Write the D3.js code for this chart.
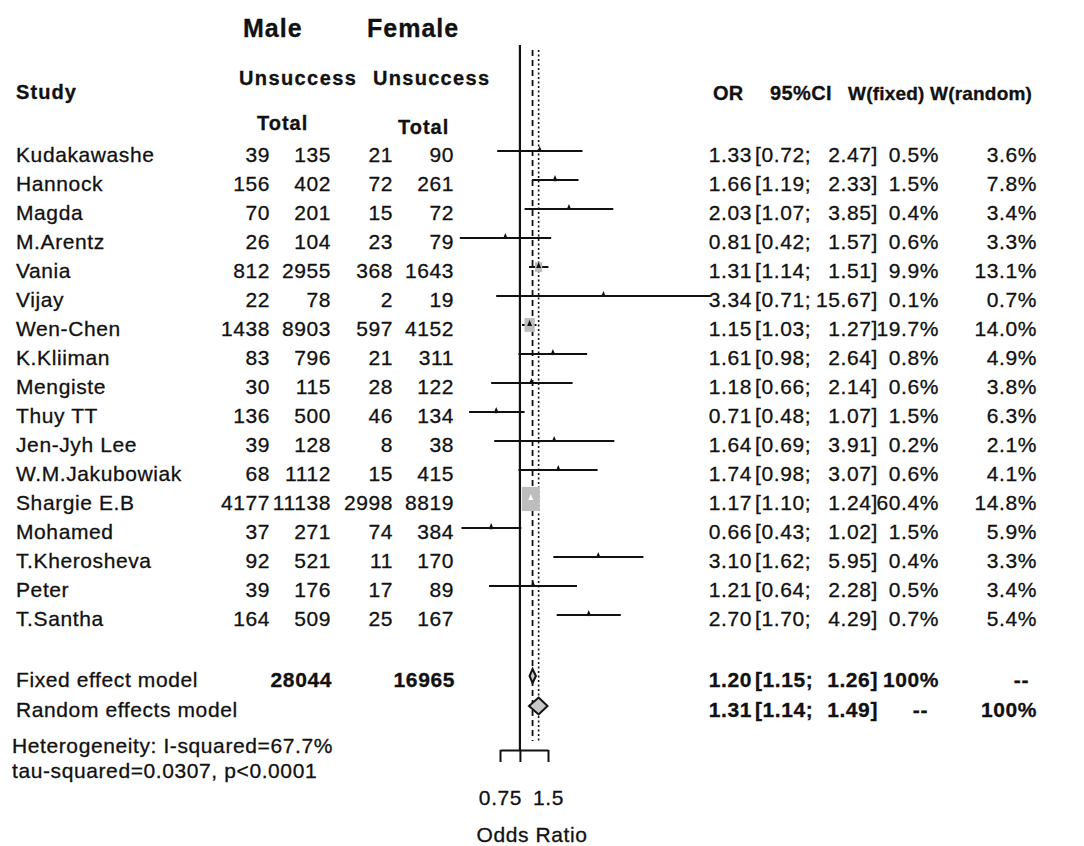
<!DOCTYPE html>
<html>
<head>
<meta charset="utf-8">
<script src="https://cdn.jsdelivr.net/npm/d3@7"></script>
<style>
  html, body { margin: 0; padding: 0; background: #fff; }
  svg text { font-family: "Liberation Sans", Arial, Helvetica, sans-serif; fill: #111; stroke: #111; stroke-width: 0.3; }
</style>
</head>
<body>
<div id="chart"></div>
<script>
// study rows
const studies = ["Kudakawashe", "Hannock", "Magda", "M.Arentz", "Vania", "Vijay", "Wen-Chen",
  "K.Kliiman", "Mengiste", "Thuy TT", "Jen-Jyh Lee", "W.M.Jakubowiak", "Shargie E.B",
  "Mohamed", "T.Kherosheva", "Peter", "T.Santha"];
const maleUnsuccess = [39, 156, 70, 26, 812, 22, 1438, 83, 30, 136, 39, 68, 4177, 37, 92, 39, 164];
const maleTotal = [135, 402, 201, 104, 2955, 78, 8903, 796, 115, 500, 128, 1112, 11138, 271, 521, 176, 509];
const femaleUnsuccess = [21, 72, 15, 23, 368, 2, 597, 21, 28, 46, 8, 15, 2998, 74, 11, 17, 25];
const femaleTotal = [90, 261, 72, 79, 1643, 19, 4152, 311, 122, 134, 38, 415, 8819, 384, 170, 89, 167];
const oddsRatio = [1.33, 1.66, 2.03, 0.81, 1.31, 3.34, 1.15, 1.61, 1.18, 0.71, 1.64, 1.74, 1.17, 0.66, 3.10, 1.21, 2.70];
const ciLower = [0.72, 1.19, 1.07, 0.42, 1.14, 0.71, 1.03, 0.98, 0.66, 0.48, 0.69, 0.98, 1.10, 0.43, 1.62, 0.64, 1.70];
const ciUpper = [2.47, 2.33, 3.85, 1.57, 1.51, 15.67, 1.27, 2.64, 2.14, 1.07, 3.91, 3.07, 1.24, 1.02, 5.95, 2.28, 4.29];
const weightFixed = [0.5, 1.5, 0.4, 0.6, 9.9, 0.1, 19.7, 0.8, 0.6, 1.5, 0.2, 0.6, 60.4, 1.5, 0.4, 0.5, 0.7];
const weightRandom = [3.6, 7.8, 3.4, 3.3, 13.1, 0.7, 14.0, 4.9, 3.8, 6.3, 2.1, 4.1, 14.8, 5.9, 3.3, 3.4, 5.4];

// pooled estimates
const fixedModel = { label: "Fixed effect model", or: 1.20, lo: 1.15, hi: 1.26, wf: "100%", wr: "--" };
const randomModel = { label: "Random effects model", or: 1.31, lo: 1.14, hi: 1.49, wf: "--", wr: "100%" };
const heterogeneity = ["Heterogeneity: I-squared=67.7%", "tau-squared=0.0307, p<0.0001"];

const axisTicks = [0.75, 1, 1.5];
const axisLabels = ["0.75", "", "1.5"];

const W = 1084, H = 846;
const svg = d3.select("#chart").append("svg").attr("width", W).attr("height", H);

const x = d3.scaleLog().domain([0.75, 1.5]).range([500, 548]);
const rowY = i => 154 + 29 * i;   // text centre of each study row
const fixedY = 679, randomY = 709;

function label(px, py, str, opt = {}) {
  return svg.append("text")
    .attr("x", px).attr("y", py)
    .attr("text-anchor", opt.anchor || "start")
    .attr("dominant-baseline", "central")
    .attr("font-size", opt.size || 21)
    .attr("font-weight", opt.bold ? "bold" : null)
    .attr("letter-spacing", opt.ls != null ? opt.ls : 0.6)
    .text(str);
}

// headers
label(243, 28, "Male", { size: 25, bold: true, ls: 1 });
label(367, 28, "Female", { size: 25, bold: true, ls: 1 });
label(16, 92, "Study", { size: 20, bold: true, ls: 1.1 });
label(239, 78, "Unsuccess", { size: 20, bold: true, ls: 1.4 });
label(373, 78, "Unsuccess", { size: 20, bold: true, ls: 1.3 });
label(257, 123, "Total", { size: 20, bold: true, ls: 1 });
label(398, 127, "Total", { size: 20, bold: true, ls: 1 });
label(713, 93, "OR", { size: 20, bold: true, ls: 0.2 });
label(770, 93, "95%CI", { size: 20, bold: true, ls: 0.4 });
label(848, 93, "W(fixed)", { size: 19, bold: true, ls: 0.2 });
label(930, 93, "W(random)", { size: 19, bold: true, ls: 0.2 });

// reference lines
const lineTop = 45, axisY = 750;
svg.append("line").attr("x1", x(1)).attr("x2", x(1)).attr("y1", lineTop).attr("y2", axisY)
  .attr("stroke", "#111").attr("stroke-width", 2.2);
svg.append("line").attr("x1", x(fixedModel.or)).attr("x2", x(fixedModel.or)).attr("y1", 50).attr("y2", 741)
  .attr("stroke", "#111").attr("stroke-width", 1.8).attr("stroke-dasharray", "6,4");
svg.append("line").attr("x1", x(randomModel.or)).attr("x2", x(randomModel.or)).attr("y1", 50).attr("y2", 743)
  .attr("stroke", "#111").attr("stroke-width", 1.6).attr("stroke-dasharray", "2,2.5");

// study rows
const rows = studies.map((s, i) => ({
  name: s, mu: maleUnsuccess[i], mt: maleTotal[i], fu: femaleUnsuccess[i], ft: femaleTotal[i],
  or: oddsRatio[i], lo: ciLower[i], hi: ciUpper[i], wf: weightFixed[i], wr: weightRandom[i], y: rowY(i)
}));

rows.forEach(d => {
  label(16, d.y, d.name);
  label(270, d.y, d.mu, { anchor: "end" });
  label(331, d.y, d.mt, { anchor: "end" });
  label(393, d.y, d.fu, { anchor: "end" });
  label(454, d.y, d.ft, { anchor: "end" });
  label(752, d.y, d.or.toFixed(2), { anchor: "end" });
  label(755, d.y, "[" + d.lo.toFixed(2) + ";", {});
  label(878, d.y, d.hi.toFixed(2) + "]", { anchor: "end" });
  label(939, d.y, d.wf.toFixed(1) + "%", { anchor: "end" });
  label(1037, d.y, d.wr.toFixed(1) + "%", { anchor: "end" });
});

const marks = svg.append("g");
marks.selectAll("line.ci").data(rows).join("line").attr("class", "ci")
  .attr("x1", d => x(d.lo)).attr("x2", d => x(d.hi))
  .attr("y1", d => d.y - 3).attr("y2", d => d.y - 3)
  .attr("stroke", "#111").attr("stroke-width", 2);

marks.selectAll("rect.box").data(rows).join("rect").attr("class", "box")
  .attr("x", d => x(d.or) - 1.15 * Math.sqrt(d.wf))
  .attr("y", d => d.y - 3 - 1.55 * Math.sqrt(d.wf))
  .attr("width", d => 2.3 * Math.sqrt(d.wf))
  .attr("height", d => 3.1 * Math.sqrt(d.wf))
  .attr("fill", "#bdbdbd");

marks.selectAll("path.est").data(rows).join("path").attr("class", "est")
  .attr("d", d => `M${x(d.or) - 2.5},${d.y - 2}L${x(d.or)},${d.y - 8}L${x(d.or) + 2.5},${d.y - 2}Z`)
  .attr("fill", d => d.wf > 40 ? "#fff" : "#111");

// pooled rows
[[fixedModel, fixedY, 14], [randomModel, randomY, 17]].forEach(([m, py, h]) => {
  label(16, py, m.label);
  label(752, py, m.or.toFixed(2), { anchor: "end", bold: true });
  label(755, py, "[" + m.lo.toFixed(2) + ";", { bold: true });
  label(878, py, m.hi.toFixed(2) + "]", { anchor: "end", bold: true });
  const my = py - 3;
  svg.append("path")
    .attr("d", `M${x(m.lo)},${my}L${x(m.or)},${my - h / 2}L${x(m.hi)},${my}L${x(m.or)},${my + h / 2}Z`)
    .attr("fill", "#c8c8c8").attr("stroke", "#111").attr("stroke-width", 2);
});
label(939, fixedY, fixedModel.wf, { anchor: "end", bold: true });
label(1029, fixedY, fixedModel.wr, { anchor: "end", bold: true });
label(928, randomY, randomModel.wf, { anchor: "end", bold: true });
label(1037, randomY, randomModel.wr, { anchor: "end", bold: true });
label(332, fixedY, d3.sum(maleTotal), { anchor: "end", bold: true });
label(455, fixedY, d3.sum(femaleTotal), { anchor: "end", bold: true });

label(12, 745, heterogeneity[0]);
label(12, 770, heterogeneity[1]);

// axis
const axis = svg.append("g").attr("transform", `translate(0,${axisY})`)
  .call(d3.axisBottom(x).tickValues(axisTicks)
    .tickFormat((d, i) => axisLabels[i]).tickSize(12).tickSizeOuter(0).tickPadding(28));
axis.attr("font-family", null);
axis.select(".domain").attr("stroke", "#111").attr("stroke-width", 2);
axis.selectAll(".tick line").attr("stroke", "#111").attr("stroke-width", 2);
axis.selectAll(".tick text").attr("font-size", 21).attr("letter-spacing", 0.6).attr("fill", "#111");

label(532, 834, "Odds Ratio", { anchor: "middle" });
</script>
</body>
</html>
